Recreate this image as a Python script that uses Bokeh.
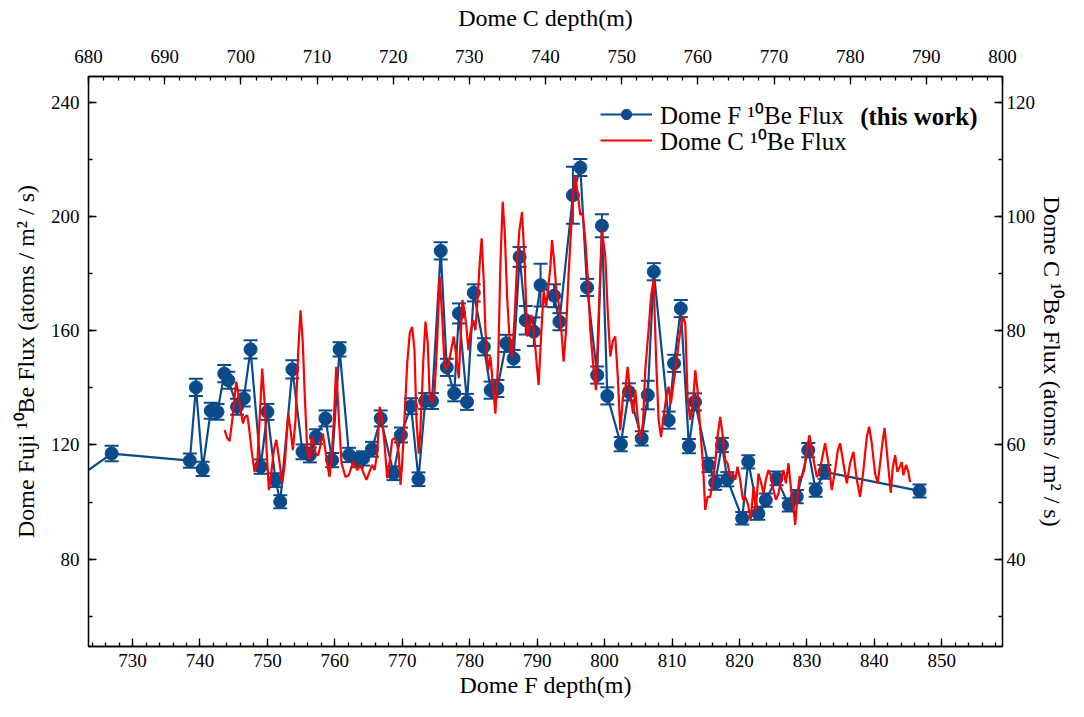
from bokeh.plotting import figure
from bokeh.models import (Range1d, LinearAxis, SingleIntervalTicker, ColumnDataSource,
                          Whisker, TeeHead, Legend, LegendItem, Label)
from bokeh.embed import file_html
from bokeh.resources import INLINE

# ---------------- data ----------------
# Dome F (this work): depth (m), 10Be flux (atoms/m2/s), 1-sigma error
domeF_depth = [720.0, 726.9, 738.5, 739.4, 740.4, 741.6, 742.6, 743.6, 744.2, 745.5,
               746.5, 747.5, 749.0, 750.0, 751.2, 751.9, 753.7, 755.2, 756.3, 757.2,
               758.6, 759.6, 760.7, 762.1, 763.3, 764.2, 765.5, 766.8, 768.7, 769.8,
               771.3, 772.4, 773.4, 774.4, 775.7, 776.6, 777.7, 778.4, 779.6, 780.6,
               782.1, 783.1, 784.1, 785.4, 786.5, 787.4, 788.3, 789.5, 790.5, 792.5,
               793.3, 795.3, 796.4, 797.4, 798.9, 799.6, 800.4, 802.4, 803.6, 805.5,
               806.4, 807.3, 809.5, 810.3, 811.3, 812.5, 813.4, 815.4, 816.4, 817.4,
               818.2, 820.4, 821.3, 822.8, 823.9, 825.5, 827.3, 828.5, 830.2, 831.3,
               832.6, 846.7]
domeF_flux = [105.4, 117.0, 114.5, 140.2, 111.6, 132.0, 131.6, 145.0, 142.7, 133.4,
              136.3, 153.5, 112.4, 131.6, 107.7, 100.1, 146.5, 117.6, 116.5, 122.9,
              129.3, 114.7, 153.5, 116.5, 114.7, 115.3, 118.5, 129.3, 110.1, 123.5,
              133.6, 108.0, 135.4, 135.4, 188.0, 147.2, 138.1, 166.1, 135.1, 173.3,
              154.4, 139.2, 139.8, 155.6, 150.3, 185.9, 163.7, 159.7, 176.0, 172.3,
              163.2, 207.5, 217.2, 175.2, 144.5, 196.8, 137.2, 120.3, 138.6, 122.3,
              137.5, 180.7, 128.7, 148.6, 167.8, 119.6, 135.1, 113.0, 106.8, 120.0,
              108.0, 94.3, 114.1, 96.0, 100.7, 108.3, 99.0, 101.9, 118.2, 104.2,
              110.6, 103.9]
domeF_err = [2.5, 2.7, 2.5, 3.0, 2.5, 2.8, 2.8, 3.0, 3.0, 2.8,
             2.8, 3.2, 2.5, 2.8, 2.4, 2.3, 3.2, 2.6, 2.6, 2.6,
             2.8, 2.5, 2.5, 2.5, 2.5, 2.5, 2.6, 2.8, 2.4, 2.6,
             2.8, 2.4, 2.8, 2.8, 3.0, 3.0, 2.8, 3.5, 2.8, 3.0,
             3.0, 3.0, 3.0, 3.0, 3.0, 3.5, 5.0, 5.0, 7.5, 4.0,
             3.0, 10.0, 3.0, 3.0, 3.0, 4.0, 3.0, 2.5, 3.0, 2.5,
             5.0, 3.0, 3.0, 3.0, 3.0, 2.5, 3.0, 2.5, 2.5, 2.5,
             2.5, 2.2, 2.3, 2.2, 2.3, 2.4, 2.3, 2.3, 2.5, 2.3,
             2.4, 2.3]

# Dome C: depth (m), 10Be flux (atoms/m2/s)
domeC_depth = [697.87, 698.22, 698.53, 698.88, 699.40, 699.74, 699.97, 700.27, 700.53, 700.85,
               701.06, 701.41, 701.80, 702.16, 702.46, 702.81, 703.16, 703.38, 703.68, 703.99,
               704.34, 704.65, 704.99, 705.44, 705.78, 706.22, 706.53, 706.83, 707.18, 707.54,
               707.84, 708.14, 708.40, 708.72, 709.02, 709.28, 709.45, 709.81, 710.16, 710.46,
               710.77, 711.03, 711.34, 711.64, 711.91, 712.21, 712.52, 712.86, 713.22, 713.74,
               714.17, 714.75, 715.28, 715.71, 716.14, 716.50, 716.80, 717.24, 717.55, 717.90,
               718.24, 718.56, 718.86, 719.21, 719.51, 719.87, 720.17, 720.43, 720.73, 720.96,
               721.18, 721.48, 721.84, 722.18, 722.49, 722.80, 723.06, 723.36, 723.58, 723.94,
               724.24, 724.54, 724.80, 725.12, 725.42, 725.77, 726.11, 726.43, 726.73, 726.99,
               727.29, 727.61, 727.95, 728.30, 728.61, 728.83, 729.09, 729.35, 729.62, 729.88,
               730.14, 730.50, 730.80, 731.10, 731.36, 731.62, 731.89, 732.11, 732.46, 732.77,
               733.07, 733.42, 733.78, 734.08, 734.38, 734.64, 734.96, 735.26, 735.61, 735.95,
               736.27, 736.57, 736.92, 737.27, 737.58, 737.88, 738.14, 738.45, 738.76, 739.10,
               739.42, 739.76, 740.07, 740.33, 740.64, 740.86, 741.16, 741.42, 741.73, 742.08,
               742.38, 742.70, 743.04, 743.35, 743.70, 743.92, 744.27, 744.57, 744.87, 745.23,
               745.58, 745.88, 746.32, 746.63, 746.97, 747.42, 747.85, 748.20, 748.51, 748.84,
               749.16, 749.49, 749.82, 750.17, 750.48, 750.78, 751.13, 751.49, 751.79, 752.09,
               752.44, 752.80, 753.10, 753.53, 753.85, 754.19, 754.54, 754.85, 755.16, 755.50,
               755.86, 756.16, 756.47, 756.81, 757.17, 757.47, 757.78, 758.05, 758.35, 758.65,
               759.00, 759.36, 759.66, 759.96, 760.32, 760.67, 760.97, 761.27, 761.63, 761.98,
               762.28, 762.58, 762.94, 763.29, 763.59, 763.90, 764.25, 764.61, 764.91, 765.21,
               765.56, 765.92, 766.22, 766.61, 766.94, 767.31, 767.62, 767.96, 768.32, 768.62,
               768.93, 769.28, 769.63, 769.93, 770.25, 770.59, 770.94, 771.24, 771.56, 771.90,
               772.25, 772.55, 772.78, 773.08, 773.34, 773.66, 773.96, 774.31, 774.65, 774.97,
               775.27, 775.62, 775.93, 776.28, 776.71, 777.15, 777.59, 778.02, 778.38, 778.68,
               779.11, 779.56, 779.99, 780.43, 780.87, 781.31, 781.74, 782.18, 782.49, 782.84,
               783.27, 783.63, 783.93, 784.23, 784.52, 785.02, 785.33, 785.59, 785.90, 786.20,
               786.46, 786.78, 786.99, 787.34, 787.64, 787.87]
domeC_flux = [62.6, 61.2, 60.7, 64.4, 71.1, 68.4, 66.1, 63.8, 64.9, 65.2,
              63.2, 59.1, 55.3, 56.8, 64.4, 73.4, 66.7, 59.1, 52.1, 55.0,
              59.1, 60.9, 57.9, 53.3, 56.8, 65.5, 62.6, 59.1, 64.4, 76.6,
              83.6, 77.8, 68.4, 59.1, 57.4, 60.9, 61.4, 58.5, 58.2, 60.0,
              62.0, 59.7, 56.8, 54.4, 57.4, 64.4, 73.7, 64.9, 56.8, 54.4,
              54.7, 57.1, 55.6, 56.5, 55.0, 53.9, 55.0, 56.5, 55.6, 58.5,
              66.7, 64.4, 60.3, 54.2, 56.8, 60.9, 61.2, 60.6, 58.5, 53.0,
              56.8, 64.4, 74.3, 79.6, 80.7, 76.6, 64.4, 58.5, 62.6, 74.3,
              81.6, 77.8, 68.4, 67.3, 69.0, 77.8, 89.5, 82.5, 74.3, 73.1,
              74.3, 76.6, 79.0, 75.5, 71.7, 77.8, 85.4, 83.6, 80.7, 76.6,
              79.6, 81.9, 80.1, 86.0, 91.8, 96.2, 88.9, 80.1, 73.1, 75.5,
              70.8, 65.5, 74.3, 91.8, 102.6, 97.6, 86.0, 79.0, 75.5, 82.5,
              91.8, 97.6, 100.8, 91.8, 79.0, 80.7, 82.8, 80.1, 75.5, 70.5,
              79.0, 87.1, 84.2, 87.1, 91.2, 95.9, 91.8, 87.1, 84.8, 80.1,
              74.6, 80.1, 90.1, 97.6, 105.2, 107.0, 103.5, 100.3, 100.6, 95.9,
              88.9, 80.1, 73.1, 69.6, 82.5, 97.6, 93.0, 82.5, 75.5, 78.2,
              79.0, 71.9, 62.6, 68.4, 69.6, 73.7, 69.0, 65.5, 69.6, 64.9,
              60.9, 63.8, 73.1, 80.1, 86.0, 88.9, 74.3, 64.4, 61.4, 64.9,
              68.4, 70.2, 67.3, 70.8, 74.3, 77.8, 80.7, 82.5, 81.3, 68.4,
              64.4, 67.3, 73.1, 69.6, 62.6, 56.8, 48.6, 50.9, 50.9, 53.9,
              56.8, 61.4, 64.9, 61.4, 57.4, 56.8, 54.4, 55.0, 53.9, 56.2,
              53.9, 50.4, 50.9, 49.5, 46.7, 52.7, 48.6, 55.0, 53.3, 51.5,
              53.9, 55.6, 54.4, 52.1, 50.4, 51.5, 53.9, 55.6, 53.3, 56.8,
              52.1, 49.2, 46.0, 50.9, 54.4, 54.4, 55.6, 59.1, 61.7, 59.1,
              56.8, 54.4, 55.0, 57.4, 60.3, 56.8, 52.1, 55.6, 59.1, 60.3,
              56.8, 53.3, 56.8, 58.8, 53.9, 50.9, 55.6, 61.4, 63.2, 60.3,
              55.0, 53.3, 56.8, 60.3, 63.0, 56.0, 51.6, 56.0, 58.2, 55.3,
              56.0, 57.0, 54.7, 56.5, 55.3, 53.5]

# ---------------- figure ----------------
BLUE = "#0B4A8B"
RED = "#FF0000"
FONT = "Liberation Serif"

p = figure(width=1068, height=701, output_backend="svg", toolbar_location=None,
           x_range=Range1d(723.47, 859.0), y_range=Range1d(49.4, 249.1),
           min_border_left=88, min_border_right=65, min_border_top=76, min_border_bottom=55)
p.extra_x_ranges = {"dc": Range1d(680, 800)}
p.extra_y_ranges = {"dcflux": Range1d(24.7, 124.55)}
p.xgrid.visible = False
p.ygrid.visible = False
p.outline_line_color = "black"
p.outline_line_width = 1.3
p.background_fill_color = "white"
p.border_fill_color = "white"

bottom_axis = p.below[0]
left_axis = p.left[0]
top_axis = LinearAxis(x_range_name="dc")
right_axis = LinearAxis(y_range_name="dcflux")
p.add_layout(top_axis, "above")
p.add_layout(right_axis, "right")


def style(ax, interval, minor, label):
    ax.ticker = SingleIntervalTicker(interval=interval, num_minor_ticks=minor)
    ax.axis_label = label
    ax.major_tick_in = 8
    ax.major_tick_out = 0
    ax.minor_tick_in = 4
    ax.minor_tick_out = 0
    ax.axis_line_color = "black"
    ax.axis_line_width = 1.3
    ax.major_tick_line_color = "black"
    ax.minor_tick_line_color = "black"
    ax.major_tick_line_width = 1.3
    ax.minor_tick_line_width = 1.3
    ax.major_label_text_font = FONT
    ax.major_label_text_font_size = "19px"
    ax.major_label_text_color = "black"
    ax.axis_label_text_font = FONT
    ax.axis_label_text_font_size = "24px"
    ax.axis_label_text_font_style = "normal"
    ax.axis_label_text_color = "black"


style(bottom_axis, 10, 5, "Dome F depth(m)")
style(left_axis, 40, 2, "Dome Fuji \u00b9\u2070Be Flux (atoms / m\u00b2 / s)")
style(top_axis, 10, 5, "Dome C depth(m)")
style(right_axis, 20, 2, "Dome C \u00b9\u2070Be Flux (atoms / m\u00b2 / s)")

bottom_axis.major_label_standoff = 7
bottom_axis.axis_label_standoff = 2
top_axis.major_label_standoff = 14
top_axis.axis_label_standoff = 16
left_axis.major_label_standoff = 9
left_axis.axis_label_standoff = 9
right_axis.major_label_standoff = 4
right_axis.axis_label_standoff = 1

# Dome F series with error bars
src = ColumnDataSource(dict(
    x=domeF_depth, y=domeF_flux,
    upper=[v + e for v, e in zip(domeF_flux, domeF_err)],
    lower=[v - e for v, e in zip(domeF_flux, domeF_err)],
))
whisk = Whisker(source=src, base="x", upper="upper", lower="lower",
                line_color=BLUE, line_width=2,
                upper_head=TeeHead(size=14, line_color=BLUE, line_width=2),
                lower_head=TeeHead(size=14, line_color=BLUE, line_width=2))
p.add_layout(whisk)
bl = p.line("x", "y", source=src, line_color=BLUE, line_width=2.2)
bs = p.scatter("x", "y", source=src, size=13, fill_color=BLUE, line_color=BLUE)

# Dome C series
csrc = ColumnDataSource(dict(x=domeC_depth, y=domeC_flux))
rl = p.line("x", "y", source=csrc, line_color=RED, line_width=2.2,
            x_range_name="dc", y_range_name="dcflux")

legend_style = dict(border_line_color=None, background_fill_alpha=0,
                    label_text_font=FONT, label_text_font_size="25px",
                    label_text_color="black", glyph_width=52, glyph_height=26,
                    label_height=26, label_standoff=8, spacing=0, padding=0, margin=0)
legend1 = Legend(items=[LegendItem(label="Dome F \u00b9\u2070Be Flux", renderers=[bl, bs])],
                 location=(512, 515), **legend_style)
legend2 = Legend(items=[LegendItem(label="Dome C \u00b9\u2070Be Flux", renderers=[rl])],
                 location=(512, 489), **legend_style)
p.add_layout(legend1)
p.add_layout(legend2)

p.add_layout(Label(x=837.9, y=235.2, text="(this work)", text_font=FONT,
                   text_font_style="bold", text_font_size="25px",
                   text_baseline="middle", text_color="black"))

open("out.html", "w").write(file_html(p, INLINE))
